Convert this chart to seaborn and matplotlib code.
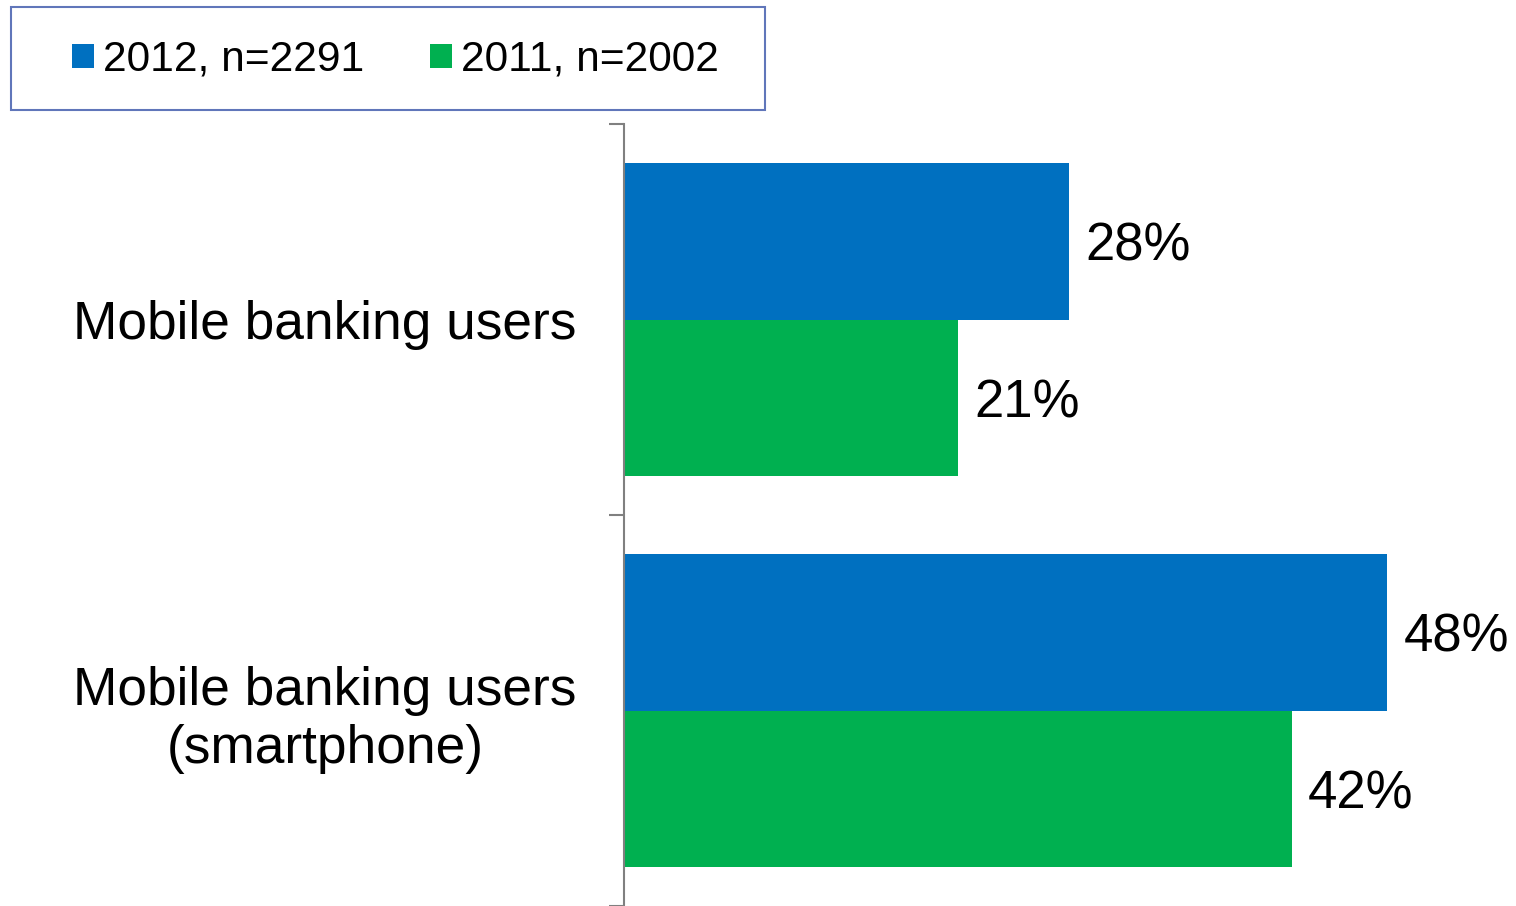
import numpy as np
import pandas as pd
import matplotlib.pyplot as plt
import seaborn as sns
from matplotlib.patches import Rectangle

sns.set_style("white")
plt.rcParams['font.family'] = ['Liberation Sans', 'DejaVu Sans']
plt.rcParams['text.color'] = 'black'
plt.rcParams['ytick.labelcolor'] = 'black'

categories = ["Mobile banking users", "Mobile banking users\n(smartphone)"]
series_names = ["2012, n=2291", "2011, n=2002"]
values_2012 = [28, 48]
values_2011 = [21, 42]
colors = ["#0070C0", "#00B050"]

df = pd.DataFrame({
    "Group": categories * 2,
    "Series": [series_names[0]] * 2 + [series_names[1]] * 2,
    "Share": values_2012 + values_2011,
})

fig = plt.figure(figsize=(15.16, 9.06), dpi=100)
px = 445 / 28  # pixels per percentage point
ax = fig.add_axes([624 / 1516, 0, 56 * px / 1516, 782 / 906])

sns.barplot(data=df, y="Group", x="Share", hue="Series", order=categories,
            hue_order=series_names, palette=colors, orient="h", width=0.8,
            saturation=1, linewidth=0, ax=ax)

for cont in ax.containers:
    for t in ax.bar_label(cont, fmt="{:.0f}%", padding=12, fontsize=38, color="black"):
        t.set_va("center_baseline")

ax.set_xlim(0, 56)
ax.set_ylim(1.5, -0.5)
ax.set_xlabel("")
ax.set_ylabel("")
ax.set_xticks([])

ax.set_yticks(range(len(categories)))
ax.set_yticklabels(categories, fontsize=38.3, color="black")
for lab in ax.get_yticklabels():
    lab.set_multialignment("center")
    lab.set_va("center_baseline")
ax.set_yticks([-0.5, 0.5, 1.5], minor=True)
ax.tick_params(axis="y", which="major", length=0, pad=34)
ax.tick_params(axis="y", which="minor", length=11, width=1.5, color="#808080", left=True)

for side in ["top", "right", "bottom"]:
    ax.spines[side].set_visible(False)
ax.spines["left"].set_color("#808080")
ax.spines["left"].set_linewidth(1.5)

handles, labels = ax.get_legend_handles_labels()
ax.legend_.remove()
fig.legend(handles, labels, loc="center left", bbox_to_anchor=(72 / 1516, 1 - 60 / 906),
           ncol=2, fontsize=30.6, frameon=False, borderpad=0, borderaxespad=0,
           handlelength=0.52, handleheight=0.5, handletextpad=0.21, columnspacing=1.55)
fig.patches.append(Rectangle((11 / 1516, 1 - 110 / 906), 754 / 1516, 103 / 906,
                             transform=fig.transFigure, fill=False,
                             edgecolor="#6076BA", linewidth=1.5))

fig.savefig("out.png", dpi=100)
